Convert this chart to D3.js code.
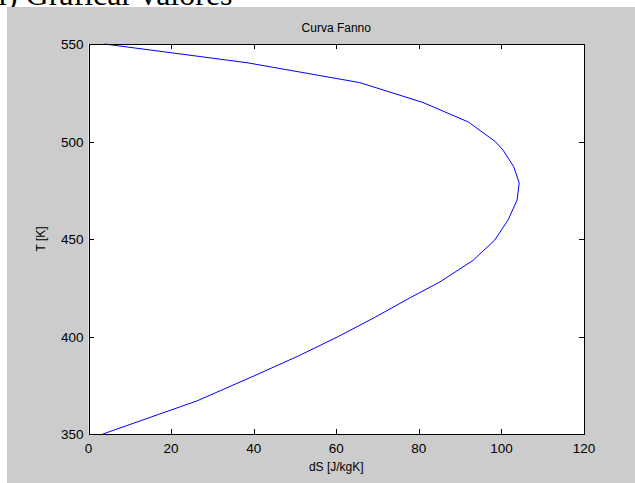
<!DOCTYPE html>
<html>
<head>
<meta charset="utf-8">
<script src="https://cdn.jsdelivr.net/npm/d3@7"></script>
<style>
  body { margin: 0; background: #fff; }
  svg { display: block; }
  .tick-label { font-family: "Liberation Sans", Arial, sans-serif; font-size: 13.5px; fill: #000; }
  .axis-label { font-family: "Liberation Sans", Arial, sans-serif; font-size: 12px; fill: #000; }
</style>
</head>
<body>
<div class="fanno-chart"></div>
<script>
// data: temperature [K] and entropy change [J/kgK]
var tempK   = [350, 367, 380, 390, 400, 410, 420, 428, 439, 449.5, 459.7, 470, 478.7, 487, 495.6, 500, 510, 520, 530.2, 540.4, 550];
var entropy = [3.5, 26.3, 40.3, 50.8, 60.5, 69.5, 78, 85.1, 93.1, 98.4, 101.6, 103.8, 104.3, 103, 100.4, 98.5, 92, 81, 65.7, 38.4, 3.9];
var xTicks = [0, 20, 40, 60, 80, 100, 120];
var yTicks = [350, 400, 450, 500, 550];

function drawFannoChart() {
    var W = 635, H = 483;
    var margin = {top: 44, right: 51, bottom: 49, left: 88.5};
    var width = W - margin.left - margin.right,
        height = H - margin.top - margin.bottom;

    var svg = d3.select(".fanno-chart").append("svg")
        .attr("width", W)
        .attr("height", H);

    // text above the figure, cut off at the top
    svg.append("text")
        .attr("x", -2)
        .attr("y", 5)
        .style("font-family", "'Liberation Serif', 'Times New Roman', serif")
        .style("font-size", "32px")
        .text("i) Graficar valores");

    // figure background
    svg.append("rect")
        .attr("x", 7)
        .attr("y", 7)
        .attr("width", W - 7)
        .attr("height", H - 7)
        .attr("fill", "#cccccc");

    var g = svg.append("g")
        .attr("transform", `translate(${margin.left}, ${margin.top})`);

    var x = d3.scaleLinear().domain([0, 120]).range([0, width]);
    var y = d3.scaleLinear().domain([350, 550]).range([height, 0]);

    g.append("rect")
        .attr("width", width)
        .attr("height", height)
        .attr("fill", "#fff");

    // the curve
    var data = tempK.map(function(t, i) { return {t: t, s: entropy[i]}; });
    var valueline = d3.line()
        .x(function(d) { return x(d.s); })
        .y(function(d) { return y(d.t); });
    g.append("path")
        .datum(data)
        .attr("fill", "none")
        .attr("stroke", "#0000ff")
        .attr("stroke-width", 1)
        .attr("d", valueline);

    // axes, matlab style: ticks inside on all four sides
    var tk = 5;
    g.append("g").attr("transform", `translate(0, ${height})`)
        .call(d3.axisBottom(x).tickValues(xTicks).tickSize(-tk).tickFormat(""));
    g.append("g")
        .call(d3.axisTop(x).tickValues(xTicks).tickSize(-tk).tickFormat(""));
    g.append("g")
        .call(d3.axisLeft(y).tickValues(yTicks).tickSize(-tk).tickFormat(""));
    g.append("g").attr("transform", `translate(${width}, 0)`)
        .call(d3.axisRight(y).tickValues(yTicks).tickSize(-tk).tickFormat(""));
    g.selectAll(".domain").attr("stroke", "#000").attr("shape-rendering", "crispEdges");
    g.selectAll(".tick line").attr("stroke", "#000").attr("shape-rendering", "crispEdges");

    // tick labels
    g.selectAll(".xlab").data(xTicks).enter().append("text")
        .attr("class", "tick-label")
        .attr("x", function(d) { return x(d); })
        .attr("y", height + 19)
        .style("text-anchor", "middle")
        .text(function(d) { return d; });
    g.selectAll(".ylab").data(yTicks).enter().append("text")
        .attr("class", "tick-label")
        .attr("x", -5)
        .attr("y", function(d) { return y(d) + 5; })
        .style("text-anchor", "end")
        .text(function(d) { return d; });

    // title and axis labels
    g.append("text")
        .attr("class", "axis-label")
        .attr("x", width / 2)
        .attr("y", -12)
        .style("text-anchor", "middle")
        .text("Curva Fanno");
    g.append("text")
        .attr("class", "axis-label")
        .attr("x", width / 2)
        .attr("y", height + 37)
        .style("text-anchor", "middle")
        .text("dS [J/kgK]");
    g.append("text")
        .attr("class", "axis-label")
        .attr("transform", "rotate(-90)")
        .attr("x", -height / 2)
        .attr("y", -44)
        .style("text-anchor", "middle")
        .text("T [K]");
}

drawFannoChart();
</script>
</body>
</html>
